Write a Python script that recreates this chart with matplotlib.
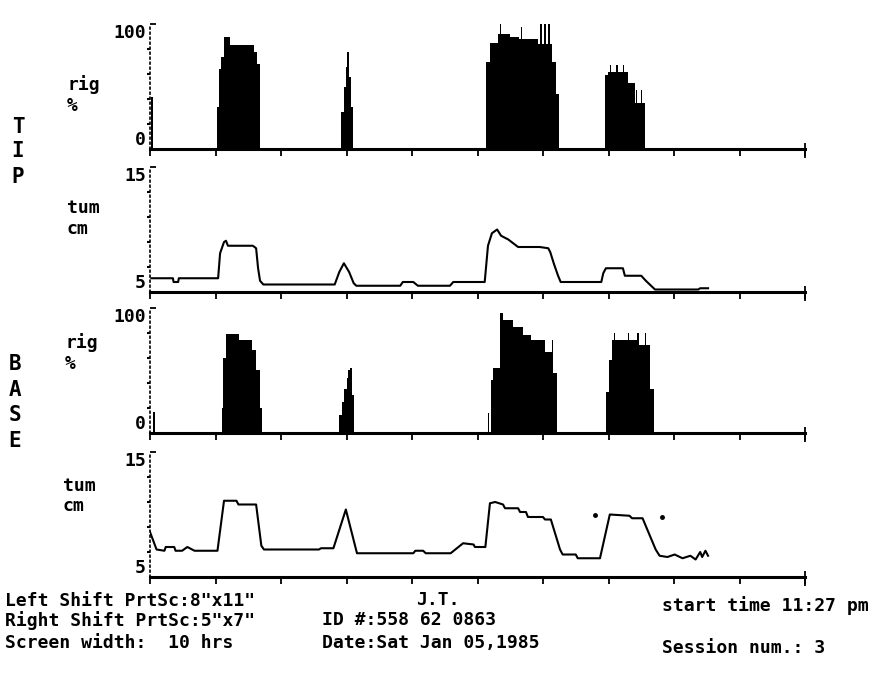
import numpy as np
import matplotlib.pyplot as plt

# RigiScan printout, 10 hour screen. Times in hours after start.
# rigidity (%) is step data, tumescence (cm) is a line.
tip_rig_t = [0.00, 0.02, 0.05,
             1.03, 1.05, 1.08, 1.13, 1.22, 1.59, 1.63, 1.68,
             2.92, 2.96, 2.99, 3.01, 3.04, 3.07, 3.10,
             5.13, 5.19, 5.31, 5.34, 5.36, 5.50, 5.64, 5.66, 5.68, 5.92, 5.96, 5.98,
             6.02, 6.04, 6.08, 6.10, 6.13, 6.20, 6.24,
             6.95, 6.99, 7.02, 7.04, 7.12, 7.14, 7.22, 7.24, 7.30, 7.40, 7.42, 7.44,
             7.49, 7.51, 7.56,
             10.0]
tip_rig_v = [0, 42, 0,
             34, 64, 74, 90, 83, 78, 68, 0,
             30, 50, 66, 78, 58, 34, 0,
             70, 85, 92, 100, 92, 90, 88, 98, 88, 84, 100, 84,
             100, 84, 100, 84, 70, 44, 0,
             59, 62, 67, 62, 67, 62, 67, 62, 53, 37, 47, 37,
             47, 37, 0,
             0]

tip_tum_t = [0.02, 0.35, 0.36, 0.43, 0.44, 1.04, 1.07, 1.13, 1.16, 1.19,
             1.57, 1.62, 1.65, 1.68, 1.73, 2.82, 2.89, 2.96, 3.04, 3.11,
             3.15, 3.82, 3.86, 4.02, 4.09, 4.58, 4.63, 5.11, 5.16, 5.22,
             5.30, 5.36, 5.47, 5.62, 5.95, 6.08, 6.11, 6.17, 6.23, 6.27,
             6.89, 6.92, 6.96, 7.22, 7.25, 7.50, 7.57, 7.63, 7.71, 8.37,
             8.40, 8.52]
tip_tum_v = [6.1, 6.1, 5.8, 5.8, 6.1, 6.1, 8.1, 9.0, 9.1, 8.7,
             8.7, 8.5, 6.9, 5.9, 5.6, 5.6, 6.6, 7.3, 6.6, 5.7,
             5.5, 5.5, 5.8, 5.8, 5.5, 5.5, 5.8, 5.8, 8.7, 9.7,
             10.0, 9.5, 9.2, 8.6, 8.6, 8.5, 8.2, 7.2, 6.3, 5.8,
             5.8, 6.5, 6.9, 6.9, 6.3, 6.3, 5.9, 5.6, 5.2, 5.2,
             5.3, 5.3]

base_rig_t = [0.00, 0.05, 0.08,
              1.10, 1.12, 1.16, 1.36, 1.56, 1.62, 1.68, 1.71,
              2.88, 2.93, 2.96, 3.00, 3.03, 3.06, 3.09, 3.12,
              5.16, 5.18, 5.21, 5.24, 5.34, 5.39, 5.54, 5.70, 5.82, 6.03, 6.14, 6.16, 6.21,
              6.96, 7.00, 7.06, 7.08, 7.10, 7.30, 7.32, 7.44, 7.46, 7.47, 7.55, 7.57,
              7.63, 7.70,
              10.0]
base_rig_v = [0, 17, 0,
              20, 60, 79, 74, 66, 50, 20, 0,
              14, 25, 35, 44, 50, 52, 30, 0,
              16, 0, 42, 52, 96, 90, 85, 78, 74, 65, 74, 48, 0,
              33, 58, 74, 80, 74, 80, 74, 80, 74, 70, 80, 70,
              35, 0,
              0]

base_tum_t = [0.00, 0.10, 0.22, 0.24, 0.37, 0.39, 0.49, 0.57, 0.68, 1.03,
              1.13, 1.32, 1.35, 1.62, 1.70, 1.74, 2.58, 2.61, 2.80, 2.99,
              3.16, 4.02, 4.05, 4.17, 4.21, 4.59, 4.78, 4.94, 4.96, 5.12,
              5.19, 5.27, 5.39, 5.42, 5.62, 5.65, 5.74, 5.77, 6.00, 6.03,
              6.12, 6.26, 6.30, 6.50, 6.53, 6.87, 7.02, 7.32, 7.36, 7.52,
              7.72, 7.78, 7.90, 8.01, 8.13, 8.25, 8.33, 8.40, 8.43, 8.48,
              8.52]
base_tum_v = [8.6, 7.2, 7.1, 7.4, 7.4, 7.1, 7.1, 7.4, 7.1, 7.1,
              11.1, 11.1, 10.8, 10.8, 7.5, 7.2, 7.2, 7.3, 7.3, 10.4,
              6.9, 6.9, 7.1, 7.1, 6.9, 6.9, 7.7, 7.6, 7.4, 7.4,
              10.9, 11.0, 10.8, 10.5, 10.5, 10.2, 10.2, 9.8, 9.8, 9.6,
              9.6, 7.2, 6.8, 6.8, 6.5, 6.5, 10.0, 9.9, 9.7, 9.7,
              7.2, 6.7, 6.6, 6.8, 6.5, 6.7, 6.4, 7.0, 6.6, 7.1,
              6.7]
# two stray printed dots on the base tumescence trace
base_dot_t = [6.79, 7.82]
base_dot_v = [10.0, 9.8]

hours = list(range(11))

plt.rcParams['font.family'] = ['DejaVu Sans Mono']
plt.rcParams['font.weight'] = 'bold'

W, H = 872, 679
fig = plt.figure(figsize=(W / 100, H / 100), dpi=100)


def panel(top, bottom):
    # top / bottom are pixel rows of the axis range
    ax = fig.add_axes([150 / W, 1 - bottom / H, 655 / W, (bottom - top) / H])
    ax.patch.set_visible(False)
    return ax


def style(ax, lo, hi, minor, labels):
    ax.set_xlim(0, 10)
    ax.set_ylim(lo, hi)
    ax.spines['top'].set_visible(False)
    ax.spines['right'].set_visible(False)
    ax.spines['bottom'].set_linewidth(2.2)
    ax.spines['left'].set_linewidth(1.2)
    ax.spines['left'].set_linestyle((0, (1, 2)))
    ax.set_xticks(hours)
    ax.tick_params(axis='x', direction='out', length=5, width=1.3, labelbottom=False)
    ax.set_yticks([lo, hi])
    ax.set_yticklabels(labels, fontsize=13, fontweight='bold')
    ax.set_yticks(minor, minor=True)
    ax.tick_params(axis='y', which='major', direction='in', length=4, width=1.3, pad=3)
    ax.tick_params(axis='y', which='minor', direction='out', length=2, width=1.5)
    lab = ax.get_yticklabels()
    lab[0].set_va('bottom')
    lab[1].set_va('top')
    # end mark at 10 h
    ax.vlines(10, -0.07, 0.05, transform=ax.get_xaxis_transform(),
              color='black', lw=1.3, clip_on=False)


ax1 = panel(24, 149)
ax1.fill_between(tip_rig_t, tip_rig_v, step='post', color='black', linewidth=0)
style(ax1, 0, 100, [20, 40, 60, 80], ['0', '100'])

ax2 = panel(167, 292)
ax2.plot(tip_tum_t, tip_tum_v, color='black', lw=1.5)
style(ax2, 5, 15, [7, 9, 11, 13], ['5', '15'])

ax3 = panel(308, 433)
ax3.fill_between(base_rig_t, base_rig_v, step='post', color='black', linewidth=0)
style(ax3, 0, 100, [20, 40, 60, 80], ['0', '100'])

ax4 = panel(452, 577)
ax4.plot(base_tum_t, base_tum_v, color='black', lw=1.5)
ax4.plot(base_dot_t, base_dot_v, 'o', color='black', ms=2.5)
style(ax4, 5, 15, [7, 9, 11, 13], ['5', '15'])


def ftext(x, y, s, **kw):
    kw.setdefault('fontsize', 13)
    kw.setdefault('va', 'center')
    fig.text(x / W, 1 - y / H, s, **kw)


# channel labels
ftext(67, 85, 'rig')
ftext(67, 106, '%')
ftext(67, 208, 'tum')
ftext(67, 229, 'cm')
ftext(65, 343, 'rig')
ftext(65, 364, '%')
ftext(63, 486, 'tum')
ftext(63, 506, 'cm')

for ch, y in zip('TIP', [127, 151, 177]):
    ftext(18, y, ch, ha='center', fontsize=15)
for ch, y in zip('BASE', [364, 390, 415, 441]):
    ftext(15, y, ch, ha='center', fontsize=15)

# footer
ftext(5, 601, 'Left Shift PrtSc:8"x11"')
ftext(5, 621, 'Right Shift PrtSc:5"x7"')
ftext(5, 643, 'Screen width:  10 hrs')
ftext(416, 600, 'J.T.')
ftext(322, 620, 'ID #:558 62 0863')
ftext(322, 643, 'Date:Sat Jan 05,1985')
ftext(662, 606, 'start time 11:27 pm')
ftext(662, 648, 'Session num.: 3')

fig.savefig('out.png', dpi=100)
